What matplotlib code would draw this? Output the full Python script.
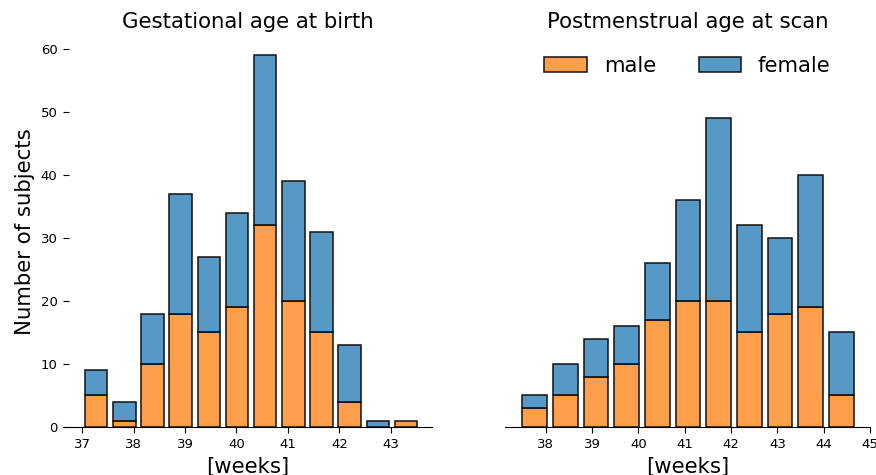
import matplotlib
matplotlib.use('Agg')
import matplotlib.pyplot as plt
from matplotlib.colors import to_rgba
import numpy as np

# gestational age at birth, 12 bins between 37w0d and 43w4d
ga_range = (37.0, 43.571)
ga_male = [5, 1, 10, 18, 15, 19, 32, 20, 15, 4, 0, 1]
ga_female = [4, 3, 8, 19, 12, 15, 27, 19, 16, 9, 1, 0]

# postmenstrual age at scan, 11 bins between 37w3d and 44w5d
pma_range = (37.429, 44.714)
pma_male = [3, 5, 8, 10, 17, 20, 20, 15, 18, 19, 5]
pma_female = [2, 5, 6, 6, 9, 16, 29, 17, 12, 21, 10]

ga_ticks = [37, 38, 39, 40, 41, 42, 43]
pma_ticks = [38, 39, 40, 41, 42, 43, 44, 45]
y_ticks = [0, 10, 20, 30, 40, 50, 60]

c_male = to_rgba('#ff7f0e', 0.75)
c_female = to_rgba('#1f77b4', 0.75)
BIG = 15.3
SMALL = 9.5


def stacked_hist(ax, rng, male, female):
    edges = np.linspace(rng[0], rng[1], len(male) + 1)
    width = edges[1] - edges[0]
    centers = edges[:-1] + width / 2
    male = np.array(male)
    female = np.array(female)
    # seaborn look: shrink=.8, faded faces, dark edges
    hm = ax.bar(centers, male, width=width * 0.8, facecolor=c_male,
                edgecolor='#111111', linewidth=1.1, label='male')
    hf = ax.bar(centers, female, width=width * 0.8, bottom=male, facecolor=c_female,
                edgecolor='#111111', linewidth=1.1, label='female')
    # skip zero-height patches so they dont leave a line
    for p in list(hm) + list(hf):
        if p.get_height() == 0:
            p.set_visible(False)
    return hm, hf


fig = plt.figure(figsize=(8.76, 4.75), dpi=100)
ax1 = fig.add_axes([63 / 876, 48 / 475, 369 / 876, 390.3 / 475])
ax2 = fig.add_axes([505 / 876, 48 / 475, 365 / 876, 390.3 / 475], sharey=ax1)

stacked_hist(ax1, ga_range, ga_male, ga_female)
hm, hf = stacked_hist(ax2, pma_range, pma_male, pma_female)

ax1.set_xlim(36.63, 43.80)
ax2.set_xlim(37.12, 45.0)
ax1.set_ylim(0, 61.95)

for ax in (ax1, ax2):
    for s in ('top', 'right', 'left'):
        ax.spines[s].set_visible(False)
    ax.tick_params(axis='x', labelsize=SMALL, length=4.5)
    ax.set_xlabel('[weeks]', fontsize=BIG)

ax1.set_xticks(ga_ticks)
ax2.set_xticks(pma_ticks)
ax1.set_yticks(y_ticks)
ax1.tick_params(axis='y', labelsize=SMALL, direction='in', length=4.5, pad=4)
ax2.tick_params(axis='y', left=False, labelleft=False)

ax1.set_ylabel('Number of subjects', fontsize=BIG)
ax1.set_title('Gestational age at birth', fontsize=BIG)
ax2.set_title('Postmenstrual age at scan', fontsize=BIG)

ax2.legend(handles=[hm, hf], labels=['male', 'female'], loc='upper center',
           ncol=2, frameon=False, fontsize=BIG, columnspacing=2.0)

fig.savefig('out.png', dpi=100)
